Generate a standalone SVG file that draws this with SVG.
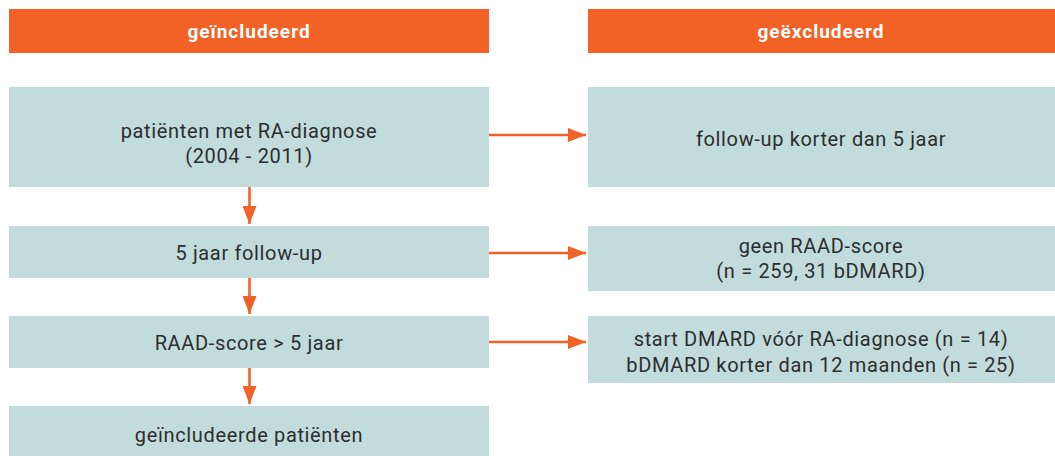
<svg xmlns="http://www.w3.org/2000/svg" width="1055" height="456" viewBox="0 0 1055 456">
<style>
.hdr{fill:#f26125}
.box{fill:#c2dcdc}
.ht{font-family:Roboto,"Liberation Sans",sans-serif;font-weight:bold;font-size:19px;letter-spacing:1px;fill:#fff;text-anchor:middle}
.t{font-family:Roboto,"Liberation Sans",sans-serif;font-size:20px;letter-spacing:0.65px;fill:#2d2d2d;text-anchor:middle}
.c{stroke:#f26125;stroke-width:2.6;fill:none}
</style>
<defs>
<marker id="ah" viewBox="0 0 18 14" refX="18" refY="7" markerWidth="18" markerHeight="14" markerUnits="userSpaceOnUse" orient="auto">
<path d="M0,0 L18,7 L0,14 Z" fill="#f26125"/>
</marker>
</defs>
<rect width="1055" height="456" fill="#fff"/>
<g id="hdr-incl"><rect class="hdr" x="9" y="9" width="480" height="44"/><text class="ht" x="249" y="38">geïncludeerd</text></g>
<g id="hdr-excl"><rect class="hdr" x="588" y="9" width="467" height="44"/><text class="ht" x="821" y="38">geëxcludeerd</text></g>
<g id="n1"><rect class="box" x="9" y="87" width="480" height="100"/><text class="t" x="249" y="138">patiënten met RA-diagnose</text><text class="t" x="249" y="163">(2004 - 2011)</text></g>
<g id="n2"><rect class="box" x="9" y="226" width="480" height="52"/><text class="t" x="249" y="260">5 jaar follow-up</text></g>
<g id="n3"><rect class="box" x="9" y="316" width="480" height="52"/><text class="t" x="249" y="350">RAAD-score &gt; 5 jaar</text></g>
<g id="n4"><rect class="box" x="9" y="406" width="480" height="50"/><text class="t" x="249" y="442">geïncludeerde patiënten</text></g>
<g id="e1"><rect class="box" x="588" y="87" width="467" height="100"/><text class="t" x="821" y="146">follow-up korter dan 5 jaar</text></g>
<g id="e2"><rect class="box" x="588" y="226" width="467" height="65"/><text class="t" x="821" y="253">geen RAAD-score</text><text class="t" x="821" y="278">(n = 259, 31 bDMARD)</text></g>
<g id="e3"><rect class="box" x="588" y="316" width="467" height="67"/><text class="t" x="821" y="346">start DMARD vóór RA-diagnose (n = 14)</text><text class="t" x="821" y="372">bDMARD korter dan 12 maanden (n = 25)</text></g>
<g id="connectors">
<line class="c" x1="249.5" y1="187" x2="249.5" y2="224" marker-end="url(#ah)"/>
<line class="c" x1="249.5" y1="278" x2="249.5" y2="314" marker-end="url(#ah)"/>
<line class="c" x1="249.5" y1="368" x2="249.5" y2="404" marker-end="url(#ah)"/>
<line class="c" x1="489" y1="135" x2="586" y2="135" marker-end="url(#ah)"/>
<line class="c" x1="489" y1="253" x2="586" y2="253" marker-end="url(#ah)"/>
<line class="c" x1="489" y1="342" x2="586" y2="342" marker-end="url(#ah)"/>
</g>
</svg>
